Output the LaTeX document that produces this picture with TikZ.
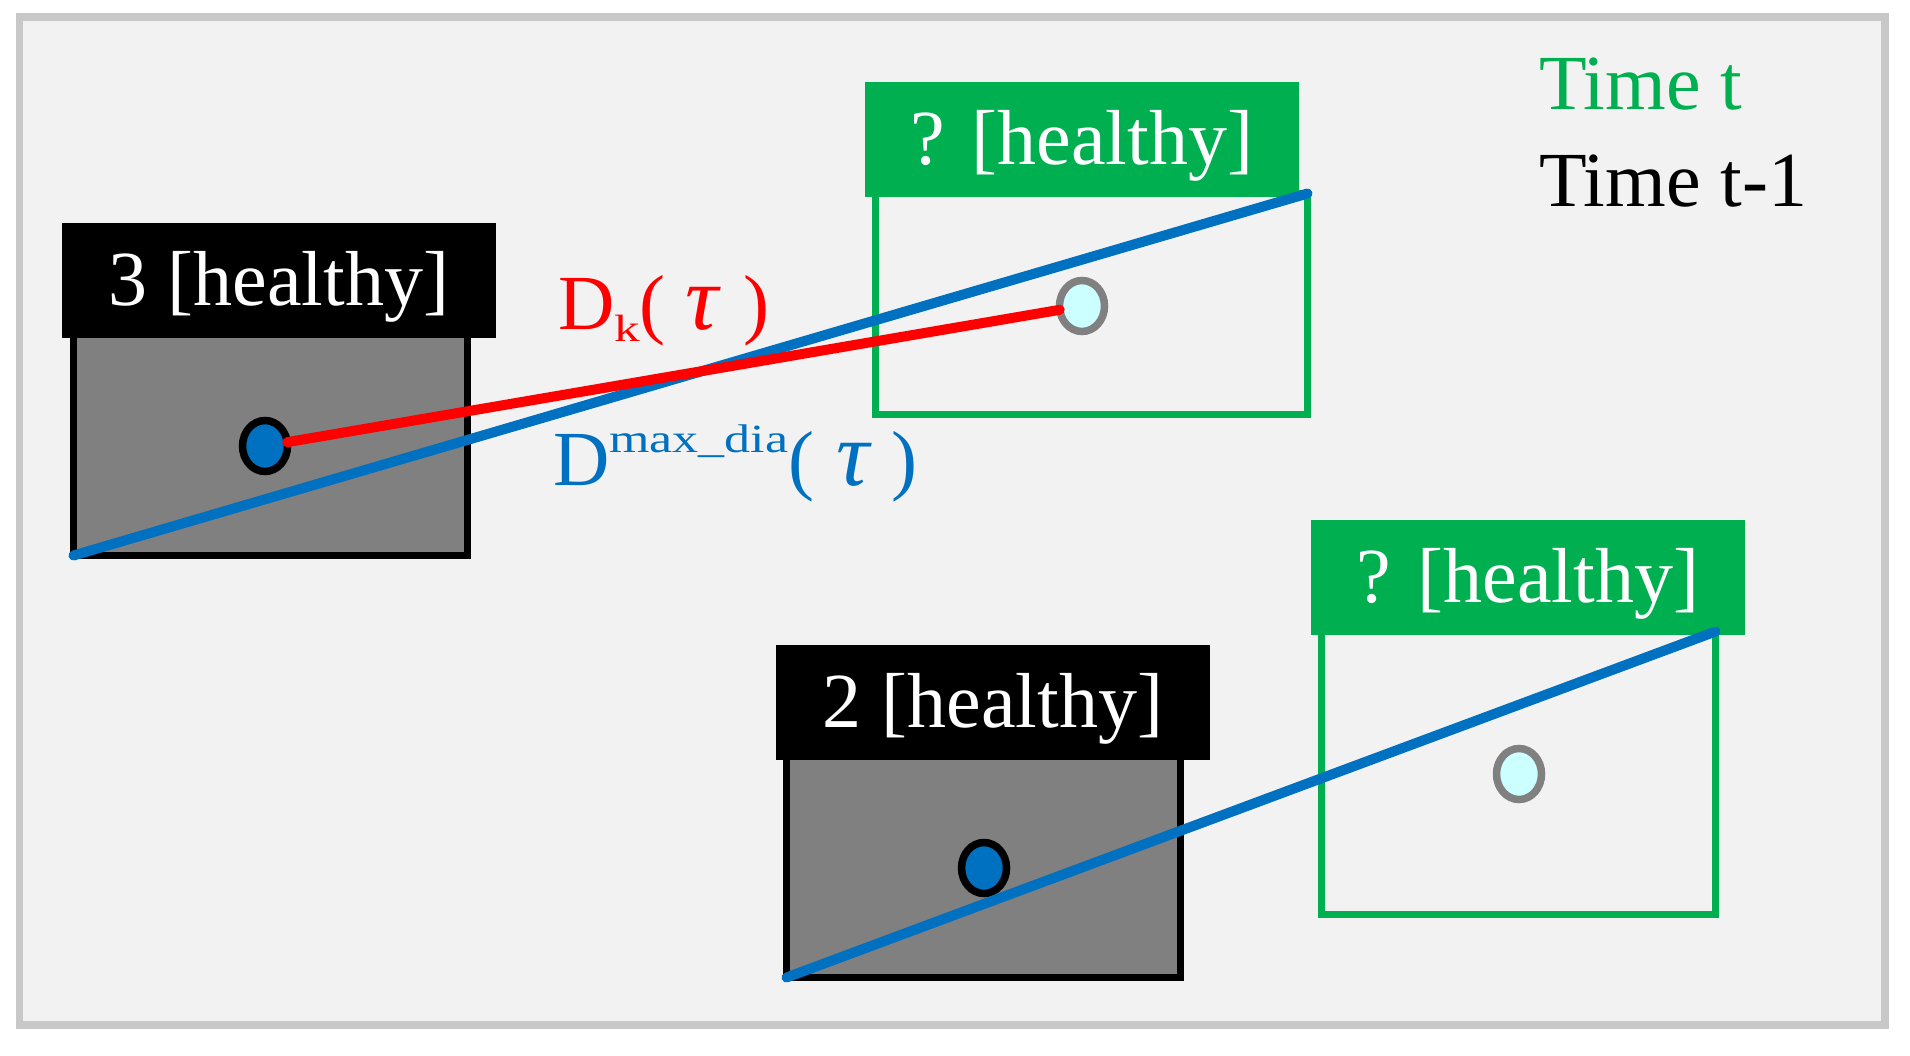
\documentclass[tikz,border=0pt]{standalone}
\usepackage{fontspec}
\setmainfont{Liberation Serif}
\usepackage{graphicx}
\usetikzlibrary{shapes.geometric}
\definecolor{pgreen}{HTML}{00B050}
\definecolor{pblue}{HTML}{0070C0}
\definecolor{pred}{HTML}{FF0000}
\definecolor{framegray}{HTML}{C8C8C8}
\definecolor{bggray}{HTML}{F2F2F2}
\definecolor{boxgray}{HTML}{808080}
\definecolor{dotcyan}{HTML}{CCFFFF}
\definecolor{ringgray}{HTML}{808080}
\begin{document}
\begin{tikzpicture}[x=1pt,y=-1pt,
 bigfont/.style={font=\fontsize{78}{90}\selectfont},
 header/.style={rectangle, inner sep=0pt, outer sep=0pt, minimum width=434pt, minimum height=115pt, text=white, text height=50pt, text depth=0pt, bigfont},
 blackhead/.style={header, fill=black},
 greenhead/.style={header, fill=pgreen},
 oldbox/.style={rectangle, draw=black, fill=boxgray, line width=7.5pt, inner sep=0pt, outer sep=0pt},
 newbox/.style={rectangle, draw=pgreen, line width=7.5pt, inner sep=0pt, outer sep=0pt},
 olddot/.style={ellipse, draw=black, fill=pblue, line width=7.5pt, minimum width=45pt, minimum height=51pt, inner sep=0pt, outer sep=0pt},
 newdot/.style={ellipse, draw=ringgray, fill=dotcyan, line width=7.5pt, minimum width=45pt, minimum height=51pt, inner sep=0pt, outer sep=0pt},
 maxline/.style={draw=pblue, line width=10pt, line cap=round},
 kline/.style={draw=pred, line width=10pt, line cap=round},
 lbl/.style={anchor=base west, inner sep=0pt, outer sep=0pt, bigfont}
]
\useasboundingbox (0,0) rectangle (1910,1056);
% frame
\draw[line width=7.5pt, draw=framegray, fill=bggray] (19.5,17) rectangle (1885,1025);

% boxes at time t-1
\node[oldbox, minimum width=394pt, minimum height=221pt] (b1) at (270.5,445) {};
\node[oldbox, minimum width=394pt, minimum height=221pt] (b2) at (983.5,867) {};
% boxes at time t
\node[newbox, minimum width=432pt, minimum height=221pt] (g1) at (1091.5,304) {};
\node[newbox, minimum width=394pt, minimum height=283pt] (g2) at (1518.5,773) {};

% headers
\node[blackhead] (h1) at (279,280.5) {3 [healthy]};
\node[blackhead] (h2) at (993,702.5) {2 [healthy]};
\node[greenhead] (gh1) at (1082,140) {? [healthy]};
\node[greenhead] (gh2) at (1528,577.5) {? [healthy]};

% dots
\node[olddot] (d1) at (265,446) {};
\node[olddot] (d2) at (984,868) {};
\node[newdot] (c1) at (1082,306) {};
\node[newdot] (c2) at (1519,774) {};

% connectors
\draw[maxline] (b1.south west) -- (g1.north east);
\draw[maxline] (b2.south west) -- (g2.north east);
\draw[kline] (d1) -- (c1);

% labels
\node[lbl, text=pred] (dk) at (558,330) {D\raisebox{-12pt}{\scalebox{1.35}[1]{\fontsize{38}{40}\selectfont k}}(\hspace{20pt}{\fontsize{92}{90}\selectfont\itshape τ}\hspace{25pt})};
\node[lbl, text=pblue] (dmax) at (553,485) {D\raisebox{33pt}{\scalebox{1.3}[1]{\fontsize{40}{40}\selectfont max\_dia}}(\hspace{22pt}{\fontsize{92}{90}\selectfont\itshape τ}\hspace{22pt})};
\node[lbl, text=pgreen] (tt) at (1539,110) {Time t};
\node[lbl, text=black] (tt1) at (1539,207) {Time t-1};
\end{tikzpicture}
\end{document}
